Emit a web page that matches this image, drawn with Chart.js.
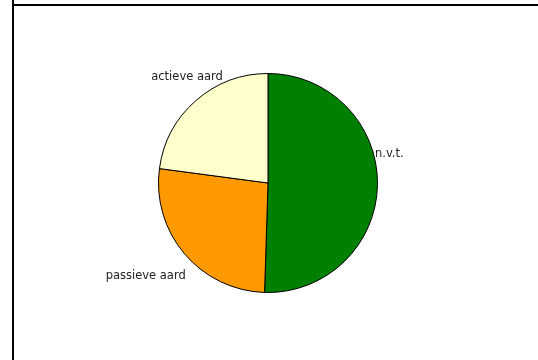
<!DOCTYPE html>
<html>
<head>
<meta charset="utf-8">
<script src="https://cdn.jsdelivr.net/npm/chart.js@4"></script>
<style>
  html, body { margin: 0; padding: 0; background: #fff; }
  #wrap { position: relative; width: 538px; height: 360px; overflow: hidden; }
  #frame { position: absolute; left: 12px; top: -10px; width: 600px; height: 400px; border-left: 2px solid #000; }
  #frameTop { position: absolute; left: 12px; top: 4px; width: 600px; height: 0; border-top: 2px solid #000; }
  canvas { position: absolute; left: 0; top: 0; }
</style>
</head>
<body>
<div id="wrap">
  <canvas id="pieChart" width="538" height="360"></canvas>
  <div id="frame"></div>
  <div id="frameTop"></div>
</div>
<script>
const categories = ["n.v.t.", "passieve aard", "actieve aard"];
const shares = [50.5, 26.6, 22.9];
const sliceColors = ["#008000", "#FF9900", "#FFFFCC"];

// label placement, relative to the edge point at each slice's middle angle
const labelOffsets = [
  { dx: -2.5, dy: -31, align: "left" },
  { dx: 1.2, dy: 22, align: "right" },
  { dx: 27, dy: -24, align: "right" },
];

const sliceLabels = {
  id: "sliceLabels",
  afterDatasetsDraw(chart) {
    const c = chart.ctx;
    const arcs = chart.getDatasetMeta(0).data;
    c.save();
    c.font = "11.5px 'DejaVu Sans', Verdana, sans-serif";
    c.fillStyle = "#222";
    c.textBaseline = "middle";
    arcs.forEach((arc, i) => {
      const mid = (arc.startAngle + arc.endAngle) / 2;
      const x = arc.x + Math.cos(mid) * arc.outerRadius + labelOffsets[i].dx;
      const y = arc.y + Math.sin(mid) * arc.outerRadius + labelOffsets[i].dy;
      c.textAlign = labelOffsets[i].align;
      c.fillText(chart.data.labels[i], x, y);
    });
    c.restore();
  },
};

const ctx = document.getElementById("pieChart");
new Chart(ctx, {
  type: "pie",
  data: {
    labels: categories,
    datasets: [
      {
        data: shares,
        backgroundColor: sliceColors,
        borderColor: "#000",
        borderWidth: 1,
      },
    ],
  },
  options: {
    responsive: false,
    animation: false,
    layout: { padding: { left: 158, right: 160, top: 73, bottom: 67 } },
    plugins: {
      legend: { display: false },
      tooltip: { enabled: false },
    },
  },
  plugins: [sliceLabels],
});
</script>
</body>
</html>
